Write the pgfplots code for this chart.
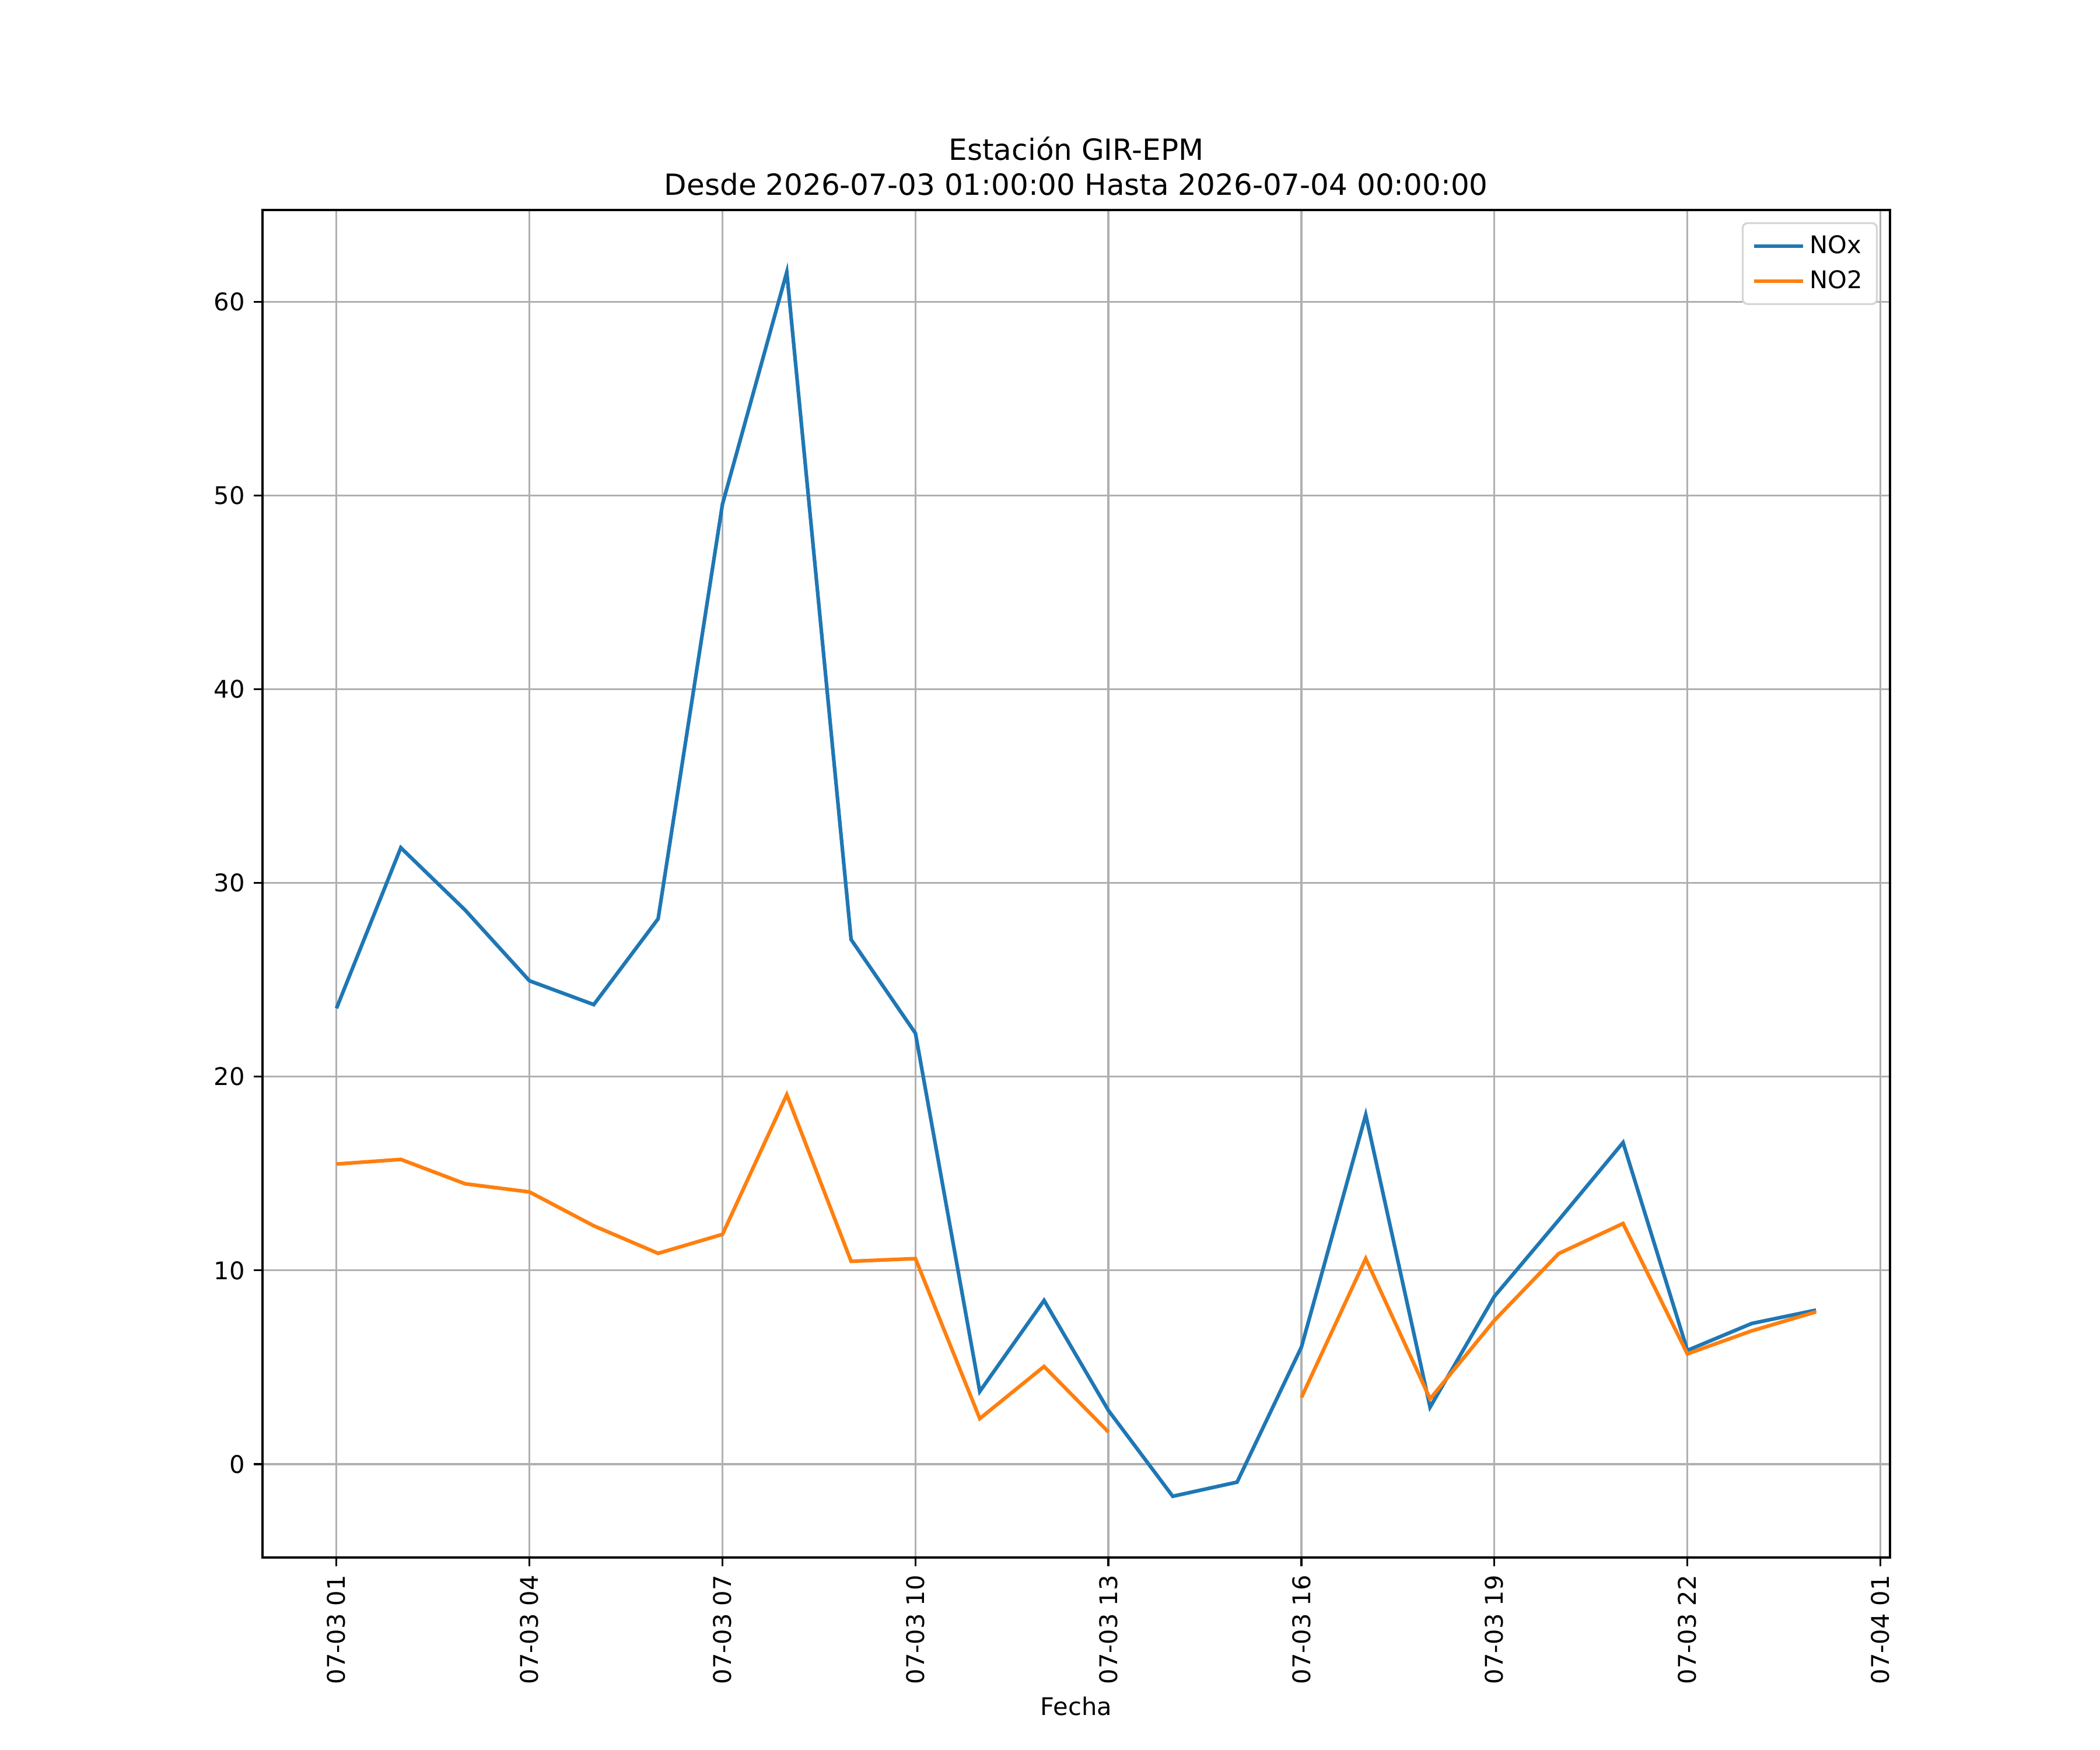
\documentclass[border=0pt]{standalone}
\usepackage{fontspec}
\setmainfont{DejaVu Sans}
\usepackage{pgfplots}
\pgfplotsset{compat=1.18}
\definecolor{cZero}{HTML}{1F77B4}
\definecolor{cOne}{HTML}{FF7F0E}
\definecolor{gridc}{HTML}{B0B0B0}
\definecolor{legc}{HTML}{D6D6D6}
\begin{document}
\begin{tikzpicture}
\useasboundingbox (0,0) rectangle (864bp,720bp);
\begin{axis}[
  name=ax,
  at={(108bp,79.2bp)}, anchor=south west,
  scale only axis, width=669.6bp, height=554.4bp,
  xmin=-0.15, xmax=25.15, ymin=-4.82, ymax=64.74,
  xtick={1,4,7,10,13,16,19,22,25},
  xticklabels={07-03 01,07-03 04,07-03 07,07-03 10,07-03 13,07-03 16,07-03 19,07-03 22,07-04 01},
  ytick={0,10,20,30,40,50,60},
  xtick pos=bottom, ytick pos=left,
  /pgf/number format/assume math mode=true,
  tick label style={font=\fontsize{10bp}{12bp}\selectfont},
  xticklabel style={rotate=90, anchor=east, inner sep=0pt, xshift=-3.5bp},
  yticklabel style={anchor=east, inner sep=0pt, xshift=-3.5bp},
  tick align=outside, major tick length=3.5bp,
  every tick/.style={black, line width=0.8bp},
  axis line style={black, line width=0.8bp},
  xmajorgrids, ymajorgrids,
  major grid style={gridc, line width=0.8bp},
  xlabel={Fecha},
  xlabel style={font=\fontsize{10bp}{12bp}\selectfont, inner sep=0pt, yshift=-5bp},
  unbounded coords=jump,
  legend style={at={(1,1)}, anchor=north east, xshift=-5bp, yshift=-5bp,
    draw=legc, line width=0.8bp, rounded corners=2bp,
    font=\fontsize{10bp}{12bp}\selectfont, inner xsep=4bp, inner ysep=3bp,
    row sep=1.5bp},
  legend cell align=left,
  legend image code/.code={\draw[#1, line width=1.5bp] (0bp,0bp) -- (20bp,0bp);},
]
\addplot[cZero, line width=1.5bp] coordinates {
(1,23.53) (2,31.82) (3,28.6) (4,24.95) (5,23.72) (6,28.15) (7,49.55) (8,61.53)
(9,27.08) (10,22.24) (11,3.75) (12,8.45) (13,2.77) (14,-1.66) (15,-0.93) (16,6.04)
(17,18.03) (18,2.94) (19,8.66) (20,12.6) (21,16.6) (22,5.87) (23,7.26) (24,7.95)
};
\addlegendentry{NOx}
\addplot[cOne, line width=1.5bp] coordinates {
(1,15.49) (2,15.73) (3,14.47) (4,14.05) (5,12.30) (6,10.88) (7,11.86) (8,19.07)
(9,10.47) (10,10.61) (11,2.35) (12,5.04) (13,1.66) (14,nan) (15,nan) (16,3.44)
(17,10.61) (18,3.37) (19,7.42) (20,10.87) (21,12.42) (22,5.69) (23,6.88) (24,7.86)
};
\addlegendentry{NO2}
\end{axis}
\node[anchor=base, inner sep=0pt, font=\fontsize{12bp}{14.4bp}\selectfont] at ([yshift=6bp]ax.north) {Desde 2026-07-03 01:00:00 Hasta 2026-07-04 00:00:00};
\node[anchor=base, inner sep=0pt, font=\fontsize{12bp}{14.4bp}\selectfont] at ([yshift=20.4bp]ax.north) {Estación GIR-EPM};
\end{tikzpicture}
\end{document}
